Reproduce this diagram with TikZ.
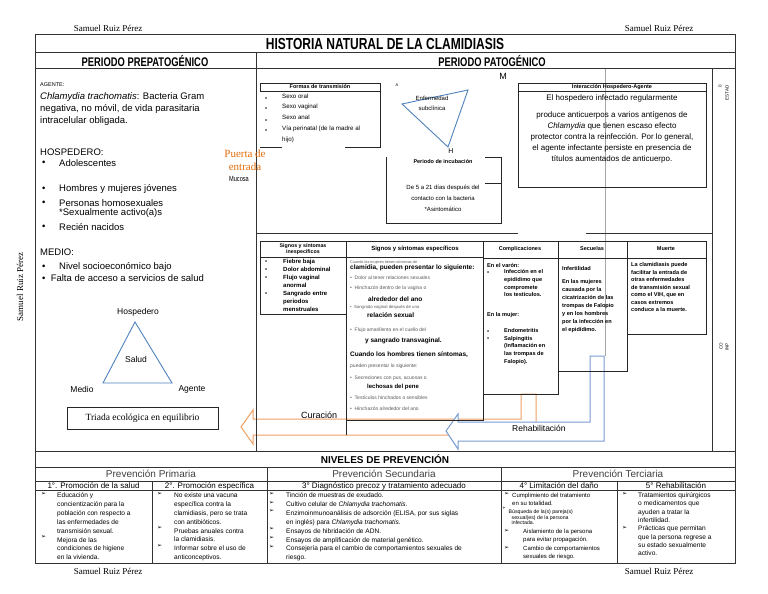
\documentclass[tikz,border=0pt]{standalone}
\usepackage{fontspec}
\setmainfont{Liberation Sans}
\newfontfamily\hnnarrow[FakeStretch=0.75]{Liberation Sans}
\newfontfamily\hnserif{Liberation Serif}
\newfontfamily\hnsym{DejaVu Sans}
\usetikzlibrary{positioning}
\definecolor{hnorange}{RGB}{228,108,10}
\definecolor{hnarrorange}{RGB}{240,160,100}
\definecolor{hnblue}{RGB}{79,129,189}
\definecolor{hnarrblue}{RGB}{120,155,210}
\newcommand{\hnfs}[2]{\fontsize{#1}{#2}\selectfont}
\newcommand{\hnarr}{{\hnsym\fontsize{6}{6}\selectfont ➢}}
\tikzset{
  hn frame/.style={draw=black!80, line width=1pt},
  hn thin/.style={draw=black!85, line width=0.7pt},
  hn tri/.style={draw=hnblue, line width=0.9pt},
  hn cur/.style={draw=hnarrorange, line width=1pt, fill=white},
  hn reh/.style={draw=hnarrblue, line width=1pt, fill=white},
  hn txt/.style={inner sep=0, anchor=west},
  hn blk/.style={inner sep=0, anchor=north west, align=left},
  hn ctr/.style={inner sep=0, align=center},
  hn title/.style={hn ctr, font=\hnnarrow\bfseries\hnfs{16}{18}},
  hn period/.style={hn ctr, font=\hnnarrow\bfseries\hnfs{12.5}{14}},
  hn sig/.style={hn ctr, font=\hnserif\hnfs{9}{10}},
  hn left/.style={hn txt, font=\hnfs{9.5}{12}},
  hn tiny/.style={hn ctr, font=\bfseries\hnfs{5.5}{6}},
  hn small/.style={hn txt, font=\hnfs{6}{7}},
  hn box/.style={hn blk, font=\bfseries\hnfs{5.6}{7.6}},
  hn grey/.style={hn txt, font=\hnfs{5}{6}, text=black!65},
  hn bold/.style={hn txt, font=\bfseries\hnfs{6.5}{8}},
  hn level/.style={hn ctr, font=\hnfs{10}{12}, text=black!75},
  hn stepline/.style={hn ctr, font=\hnfs{8}{9}},
  hn prev/.style={hn blk, font=\hnfs{6.6}{8.9}},
}
\begin{document}
\begin{tikzpicture}[x=1pt, y=-1pt]
\useasboundingbox (0,0) rectangle (768,594);

% firmas
\node[hn sig] (firma1) at (108,28) {Samuel Ruiz Pérez};
\node[hn sig] (firma2) at (659,28) {Samuel Ruiz Pérez};
\node[hn sig, rotate=90] (firma3) at (20,287) {Samuel Ruiz Pérez};
\node[hn sig] (firma4) at (108,571) {Samuel Ruiz Pérez};
\node[hn sig] (firma5) at (659,571) {Samuel Ruiz Pérez};

% flechas de curacion y rehabilitacion
\draw[hn cur] (241,427) -- (253,410) -- (253,419) -- (521,419) -- (521,394) -- (536,394) -- (536,435) -- (253,435) -- (253,444) -- cycle;
\draw[hn reh] (446,431) -- (458,414) -- (458,422) -- (590,422) -- (590,356) -- (604,356) -- (604,441) -- (458,441) -- (458,449) -- cycle;
\draw[draw=black!35, line width=0.5pt] (605,69) -- (605,356);
\node[hn txt, font=\hnfs{9}{10}] (curacion) at (301,415) {Curación};
\node[hn txt, font=\hnfs{8.5}{10}] (rehab) at (512,428) {Rehabilitación};

% marco
\draw[hn frame] (35,35) rectangle (735,563);
\draw[hn frame] (35,52.5) -- (735,52.5) (35,69) -- (735,69);
\draw[hn frame] (256,52.5) -- (256,451) (712,69) -- (712,451);
\draw[hn frame] (256,233) -- (518,233) (586,233) -- (712,233);
\draw[hn frame] (35,451) -- (735,451) (35,467) -- (735,467) (35,481) -- (735,481) (35,490.5) -- (735,490.5);
\draw[hn frame] (267,467) -- (267,563) (501,467) -- (501,563) (152,481) -- (152,563) (617,481) -- (617,563);

\node[hn title] (titulo) at (385,44) {HISTORIA NATURAL DE LA CLAMIDIASIS};
\node[hn period] (prepat) at (145,61) {PERIODO PREPATOGÉNICO};
\node[hn period] (pat) at (492,61) {PERIODO PATOGÉNICO};

% periodo prepatogenico
\node[hn txt, font=\hnfs{5.5}{7}] (agente) at (40,85) {AGENTE:};
\node[hn blk, font=\hnfs{9.5}{12}] (agentetxt) at (40,92) {\textit{Chlamydia trachomatis}: Bacteria Gram\\negativa, no móvil, de vida parasitaria\\intracelular obligada.};
\node[hn left] (hosp) at (40,152) {HOSPEDERO:};
\foreach \yy in {163,189,203,227} \node[hn left, name=hb\yy] at (42,\yy) {•};
\node[hn left] (hosp1) at (59,163) {Adolescentes};
\node[hn left] (hosp2) at (59,189) {Hombres y mujeres jóvenes};
\node[hn left] (hosp3) at (59,203) {Personas homosexuales};
\node[hn left] (hosp4) at (59,213) {*Sexualmente activo(a)s};
\node[hn left] (hosp5) at (59,227) {Recién nacidos};
\node[hn left] (medio) at (40,252) {MEDIO:};
\node[hn left] (mb1) at (42,267) {•};
\node[hn left] (medio1) at (59,267) {Nivel socioeconómico bajo};
\node[hn left] (medio2) at (42,278) {•\ \ Falta de acceso a servicios de salud};

\draw[hn tri] (135,322) -- (172,383) -- (103,383) -- cycle;
\node[hn ctr, font=\hnfs{8.5}{10}] (thosp) at (138,312) {Hospedero};
\node[hn ctr, font=\hnfs{8.5}{10}] (tsalud) at (136,359) {Salud};
\node[hn ctr, font=\hnfs{8.5}{10}] (tmedio) at (82,389) {Medio};
\node[hn ctr, font=\hnfs{8.5}{10}] (tagente) at (192,389) {Agente};
\node[draw=black!85, line width=0.8pt, minimum width=151pt, minimum height=22pt, inner sep=0,
  font=\hnserif\hnfs{9.5}{11}] (triada) at (142.5,418) {Triada ecológica en equilibrio};

\node[hn ctr, font=\hnserif\hnfs{11}{13}, text=hnorange] (puerta) at (245,160) {Puerta de\\entrada};
\node[hn ctr, font=\hnnarrow\hnfs{7.5}{9}] (mucosa) at (239,179) {Mucosa};

% periodo patogenico: parte alta
\node[hn ctr, font=\hnfs{9}{10}] (m) at (503,76) {M};
\draw[hn thin] (260,83) rectangle (380,91);
\draw[hn thin] (380,91) -- (380,147) -- (345,147) (260,147) -- (282,147);
\node[hn tiny] (formas) at (320,87) {Formas de transmisión};
\foreach \yy in {97,107,119,129} \node[hn small, name=fb\yy] at (265,\yy+2) {•};
\node[hn box, font=\hnfs{6.2}{10.8}] (formastxt) at (282,93.5) {Sexo oral\\Sexo vaginal\\Sexo anal\\Vía perinatal (de la madre al\\hijo)};

\node[hn ctr, font=\hnfs{4}{5}] (a) at (397,85) {A};
\draw[hn tri] (402,104) -- (468,90) -- (448,147) -- cycle;
\node[hn ctr, font=\hnfs{6}{10}] (subclin) at (432,103) {Enfermedad\\subclínica};
\node[hn ctr, font=\hnfs{7}{8}] (h) at (451,151) {H};

\draw[hn thin] (386,157) -- (386,223) -- (501,223) -- (501,157) -- (485,157) (485,183) -- (501,183);
\node[hn tiny] (incub) at (443,162) {Periodo de incubación};
\node[hn ctr, font=\hnfs{6}{11}] (incubtxt) at (443,193) {De 5 a 21 días después del\\contacto con la bacteria};
\node[hn ctr, font=\hnfs{6}{7}] (asint) at (443,209) {*Asintomático};

\draw[hn thin] (518,83) rectangle (706,187) (518,91) -- (706,91);
\node[hn tiny] (interac) at (612,87) {Interacción Hospedero-Agente};
\node[hn ctr, font=\hnfs{8}{10}] (interac1) at (612,98) {El hospedero infectado regularmente};
\node[hn ctr, font=\hnfs{8}{11}] (interac2) at (612,137) {produce anticuerpos a varios antígenos de\\\textit{Chlamydia} que tienen escaso efecto\\protector contra la reinfección. Por lo general,\\el agente infectante persiste en presencia de\\títulos aumentados de anticuerpo.};

\node[hn ctr, font=\hnfs{4.5}{5}, rotate=90] (estad) at (727,93) {ESTAD};
\node[hn ctr, font=\hnfs{4.5}{5}, rotate=90] (estad0) at (720,86) {0};
\node[hn ctr, font=\hnfs{4.5}{5}, rotate=90] (inp) at (727,347) {INP};
\node[hn ctr, font=\hnfs{4.5}{5}, rotate=90] (co) at (721,346) {CO};

% periodo patogenico: signos, complicaciones, secuelas, muerte
\draw[hn thin] (260,241) rectangle (346,314) (260,257) -- (346,257);
\node[hn tiny, font=\bfseries\hnfs{5.3}{6}] (inesp) at (303,249) {Signos y síntomas\\inespecíficos};
\foreach \yy in {262,270,278,294} \node[hn small, name=sb\yy] at (265,\yy) {•};
\node[hn box, font=\bfseries\hnfs{6}{8}] (inesptxt) at (283,258.8) {Fiebre baja\\Dolor abdominal\\Flujo vaginal\\anormal\\Sangrado entre\\periodos\\menstruales};

\draw[hn thin] (346,241) -- (483,241) -- (483,420) -- (346,420) (346,241) -- (346,435) (346,257) -- (483,257);
\node[hn tiny, font=\bfseries\hnfs{6}{7}] (esp) at (415,249) {Signos y síntomas específicos};
\node[hn grey, font=\hnfs{3.8}{4}] (esp0) at (350,262) {Cuando las mujeres tienen síntomas de};
\node[hn bold] (esp1) at (350,268) {clamidia, pueden presentar lo siguiente:};
\node[hn grey] (esp2) at (350,278) {•\ \ Dolor al tener relaciones sexuales};
\node[hn grey] (esp3) at (350,288) {•\ \ Hinchazón dentro de la vagina o};
\node[hn bold] (esp4) at (368,299) {alrededor del ano};
\node[hn grey, font=\hnfs{4.3}{5}] (esp5) at (350,307) {•\ \ Sangrado vaginal después de una};
\node[hn bold] (esp6) at (367,315) {relación sexual};
\node[hn grey] (esp7) at (350,330) {•\ \ Flujo amarillento en el cuello del};
\node[hn bold] (esp8) at (365,341) {y sangrado transvaginal.};
\node[hn bold] (esp9) at (350,355) {Cuando los hombres tienen síntomas,};
\node[hn grey] (esp10) at (350,366) {pueden presentar lo siguiente:};
\node[hn grey] (esp11) at (350,378) {•\ \ Secreciones con pus, acuosas o};
\node[hn bold, font=\bfseries\hnfs{6}{7}] (esp12) at (367,387) {lechosas del pene};
\node[hn grey] (esp13) at (350,398) {•\ \ Testículos hinchados o sensibles};
\node[hn grey] (esp14) at (350,409) {•\ \ Hinchazón alrededor del ano};

\draw[hn thin] (483,241) rectangle (558,394) (483,258) -- (558,258);
\node[hn tiny] (compl) at (520,249) {Complicaciones};
\node[hn txt, font=\bfseries\hnfs{5.6}{7}] (varon) at (487,265) {En el varón:};
\node[hn small] (cb1) at (487,273) {•};
\node[hn box] (compl1) at (504,269.5) {Infección en el\\epidídimo que\\compromete\\los testículos.};
\node[hn txt, font=\bfseries\hnfs{5.6}{7}] (mujer) at (487,315) {En la mujer:};
\node[hn small] (cb2) at (487,332) {•};
\node[hn small] (cb3) at (487,339) {•};
\node[hn box, font=\bfseries\hnfs{5.6}{7.6}] (compl2) at (504,328.5) {Endometritis\\Salpingitis\\(Inflamación en\\las trompas de\\Falopio).};

\draw[hn thin] (558,241) rectangle (627,371) (558,258) -- (627,258);
\node[hn tiny] (secuelas) at (592,249) {Secuelas};
\node[hn txt, font=\bfseries\hnfs{5.6}{7}] (infert) at (562,268) {Infertilidad};
\node[hn box, font=\bfseries\hnfs{5.6}{7.9}] (secutxt) at (562,279.5) {En las mujeres\\causada por la\\cicatrización de las\\trompas de Falopio\\y en los hombres\\por la infección en\\el epidídimo.};

\draw[hn thin] (627,241) rectangle (706,334) (627,258) -- (706,258);
\node[hn tiny] (muerte) at (666,249) {Muerte};
\node[hn box, font=\bfseries\hnfs{5.6}{7.5}] (muertetxt) at (631,262.5) {La clamidiasis puede\\facilitar la entrada de\\otras enfermedades\\de transmisión sexual\\como el VIH, que en\\casos extremos\\conduce a la muerte.};

% niveles de prevencion
\node[hn ctr, font=\bfseries\hnfs{10}{12}] (niveles) at (385,459) {NIVELES DE PREVENCIÓN};
\node[hn level] (primaria) at (151,474) {Prevención Primaria};
\node[hn level] (secundaria) at (384,474) {Prevención Secundaria};
\node[hn level] (terciaria) at (618,474) {Prevención Terciaria};
\node[hn stepline] (paso1) at (93.5,486) {1°. Promoción de la salud};
\node[hn stepline] (paso2) at (209.5,486) {2°. Promoción específica};
\node[hn stepline] (paso3) at (384,486) {3° Diagnóstico precoz y tratamiento adecuado};
\node[hn stepline] (paso4) at (559,486) {4° Limitación del daño};
\node[hn stepline] (paso5) at (676,486) {5° Rehabilitación};

\foreach \yy in {494,537} \node[hn txt, name=p1b\yy] at (41,\yy) {\hnarr};
\node[hn prev] (prev1) at (57,492.5) {Educación y\\concientización para la\\población con respecto a\\las enfermedades de\\transmisión sexual.\\Mejora de las\\condiciones de higiene\\en la vivienda.};
\foreach \yy in {494,528,546} \node[hn txt, name=p2b\yy] at (157,\yy) {\hnarr};
\node[hn prev] (prev2) at (174,492.5) {No existe una vacuna\\específica contra la\\clamidiasis, pero se trata\\con antibióticos.\\Pruebas anuales contra\\la clamidiasis.\\Informar sobre el uso de\\anticonceptivos.};
\foreach \yy in {494,503,511,529,538,547} \node[hn txt, name=p3b\yy] at (269,\yy) {\hnarr};
\node[hn prev] (prev3) at (286,492.5) {Tinción de muestras de exudado.\\Cultivo celular de \textit{Chlamydia trachomatis}.\\Enzimoinmunoanálisis de adsorción (ELISA, por sus siglas\\en inglés) para \textit{Chlamydia trachomatis}.\\Ensayos de hibridación de ADN.\\Ensayos de amplificación de material genético.\\Consejería para el cambio de comportamientos sexuales de\\riesgo.};
\foreach \yy in {494,531,548} \node[hn txt, name=p4b\yy] at (504,\yy) {\hnarr};
\node[hn txt, name=p4bx, font=\hnsym\fontsize{4.5}{4.5}\selectfont] at (502,508) {➢};
\node[hn prev, font=\hnfs{6}{8.6}] (prev4a) at (512,492.5) {Cumplimiento del tratamiento\\en su totalidad.};
\node[hn prev, font=\hnfs{5.2}{5.5}] (prev4b) at (508.5,509.5) {Búsqueda de la(s) pareja(s)\\\hspace*{3pt}sexual(es) de la persona\\\hspace*{3pt}infectada.};
\node[hn prev, font=\hnfs{6}{7.5}] (prev4c) at (523,529) {Aislamiento de la persona\\para evitar propagación.};
\node[hn prev, font=\hnfs{6}{8.5}] (prev4d) at (523,545.5) {Cambio de comportamientos\\sexuales de riesgo.};
\foreach \yy in {494,528} \node[hn txt, name=p5b\yy] at (622,\yy) {\hnarr};
\node[hn prev, font=\hnfs{6.6}{8.3}] (prev5) at (638,492.5) {Tratamientos quirúrgicos\\o medicamentos que\\ayuden a tratar la\\infertilidad.\\Prácticas que permitan\\que la persona regrese a\\su estado sexualmente\\activo.};
\end{tikzpicture}
\end{document}
